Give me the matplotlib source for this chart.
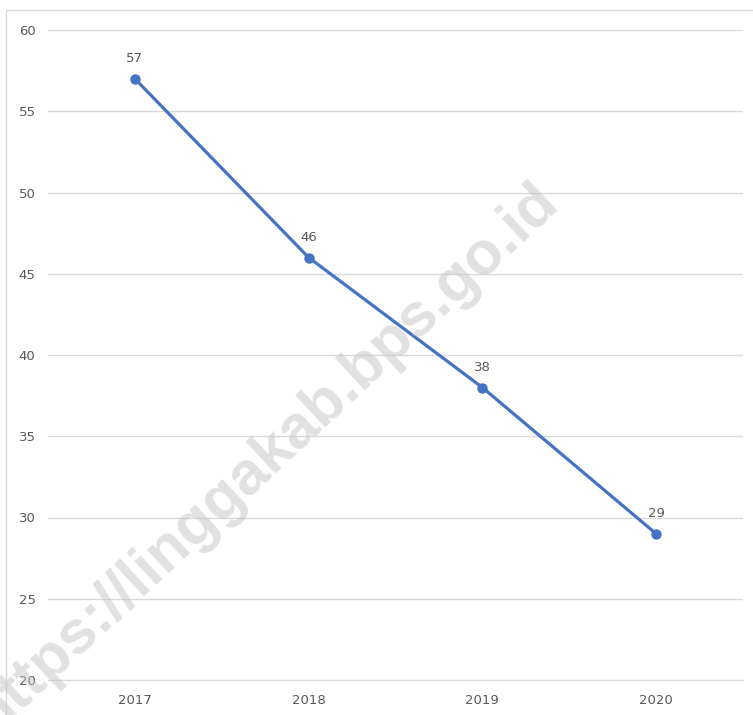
import matplotlib.pyplot as plt
from matplotlib.patches import Rectangle

years = ['2017', '2018', '2019', '2020']
values = [57, 46, 38, 29]
y_ticks = [20, 25, 30, 35, 40, 45, 50, 55, 60]

W, H = 753, 715
fig = plt.figure(figsize=(W / 100, H / 100), dpi=100)
fig.patch.set_facecolor('white')

# light chart border
fig.add_artist(Rectangle((6 / W, -0.01), 1.02, 1 - 10 / H + 0.01,
                         transform=fig.transFigure, fill=False,
                         edgecolor='#d9d9d9', linewidth=1))

ax = fig.add_axes([48 / W, 1 - 680 / H, (743 - 48) / W, (680 - 30) / H])
x = list(range(len(years)))
ax.plot(x, values, '-o', color='#4472C4', linewidth=2.3, markersize=6.5, zorder=3)
for xi, v in zip(x, values):
    ax.annotate(str(v), (xi, v), xytext=(0, 10), textcoords='offset points',
                ha='center', va='bottom', fontsize=9.5, color='#595959')

ax.set_xlim(-0.5, len(years) - 0.5)
ax.set_ylim(20, 60)
ax.set_yticks(y_ticks)
ax.set_xticks(x)
ax.set_xticklabels(years)
ax.grid(axis='y', color='#d9d9d9', linewidth=1)
ax.set_axisbelow(True)
for s in ['top', 'right', 'left']:
    ax.spines[s].set_visible(False)
ax.spines['bottom'].set_color('#d9d9d9')
ax.tick_params(axis='both', length=0, labelsize=9.5, labelcolor='#595959')
ax.tick_params(axis='y', pad=9)
ax.tick_params(axis='x', pad=10)

# watermark
fig.text(266 / W, 1 - 458 / H, 'https://linggakab.bps.go.id', rotation=43,
         rotation_mode='anchor', ha='center', va='center',
         fontsize=44, fontweight='bold', family='Liberation Sans',
         color='#c4c4c4', alpha=0.5, zorder=10)

fig.savefig('out.png', dpi=100)
